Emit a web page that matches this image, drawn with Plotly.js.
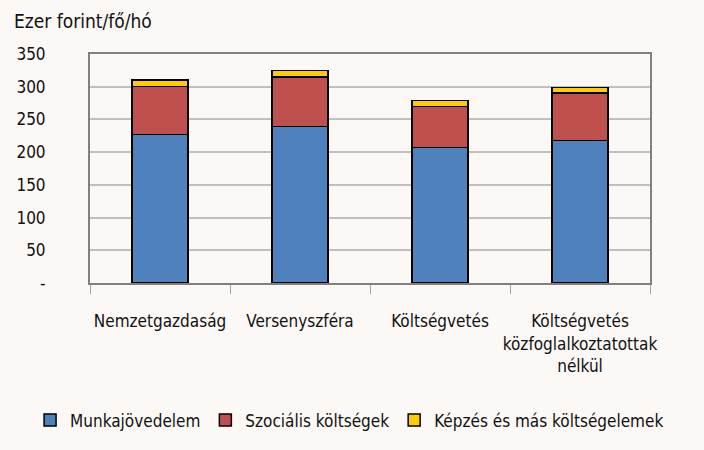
<!DOCTYPE html>
<html>
<head>
<meta charset="utf-8">
<script src="https://cdn.plot.ly/plotly-3.0.1.min.js"></script>
<style>
html,body{margin:0;padding:0;background:#fbf8f5;}
#chart{width:704px;height:450px;}
</style>
</head>
<body>
<div id="chart"></div>
<script>
const categories = ["Nemzetgazdaság", "Versenyszféra", "Költségvetés", "Költségvetés<br>közfoglalkoztatottak<br>nélkül"];
const munkajovedelem = [227, 239, 207, 218];
const szocialis = [73, 76, 63, 72.5];
const kepzes = [10, 10, 9, 8];
const seriesNames = ["Munkajövedelem", "Szociális költségek", "Képzés és más költségelemek"];
const yTickVals = [0, 50, 100, 150, 200, 250, 300, 350];
const yTickText = ["-", "50", "100", "150", "200", "250", "300", "350"];

const FONT = "'DejaVu Sans Condensed', 'Liberation Sans Narrow', 'Arial Narrow', sans-serif";
const colors = ["#4f81bd", "#c0504d", "#ffcc00"];
const seriesData = [munkajovedelem, szocialis, kepzes];

const traces = seriesData.map((vals, i) => ({
  type: "bar",
  name: seriesNames[i],
  x: categories,
  y: vals,
  width: 0.4,
  marker: {color: colors[i], line: {color: "#000000", width: 1.5}},
  hoverinfo: "none"
}));

const layout = {
  width: 704, height: 450,
  barmode: "stack",
  paper_bgcolor: "#fbf8f5",
  plot_bgcolor: "#fbf8f5",
  margin: {l: 90, r: 54, t: 54, b: 167},
  font: {family: FONT, size: 17, color: "#111111"},
  showlegend: true,
  legend: {
    orientation: "h",
    x: -0.107, xanchor: "left", y: -0.6, yanchor: "middle",
    font: {family: FONT, size: 17, color: "#111111"},
    traceorder: "normal", itemwidth: 30, bgcolor: "rgba(0,0,0,0)"
  },
  xaxis: {
    type: "category", automargin: false, tickangle: 0,
    showline: true, linecolor: "#808080", linewidth: 2, mirror: true,
    ticks: "outside", tickson: "boundaries", ticklen: 9, tickcolor: "#a0a0a0", tickwidth: 1,
    ticklabelstandoff: 22,
    tickfont: {family: FONT, size: 17, color: "#111111"},
    showgrid: false, zeroline: false
  },
  yaxis: {
    range: [0, 350], automargin: false,
    tickvals: yTickVals, ticktext: yTickText,
    showline: true, linecolor: "#808080", linewidth: 2, mirror: true,
    ticks: "", ticklabelstandoff: 39,
    showgrid: true, gridcolor: "#c0c0c0", gridwidth: 2,
    zeroline: false,
    tickfont: {family: FONT, size: 17, color: "#111111"}
  },
  annotations: [{
    text: "Ezer forint/fő/hó", xref: "paper", yref: "paper",
    x: -0.139, y: 1.142, xanchor: "left", yanchor: "middle", showarrow: false,
    font: {family: FONT, size: 19, color: "#111111"}
  }]
};

Plotly.newPlot("chart", traces, layout, {displayModeBar: false, staticPlot: true});
</script>
</body>
</html>
